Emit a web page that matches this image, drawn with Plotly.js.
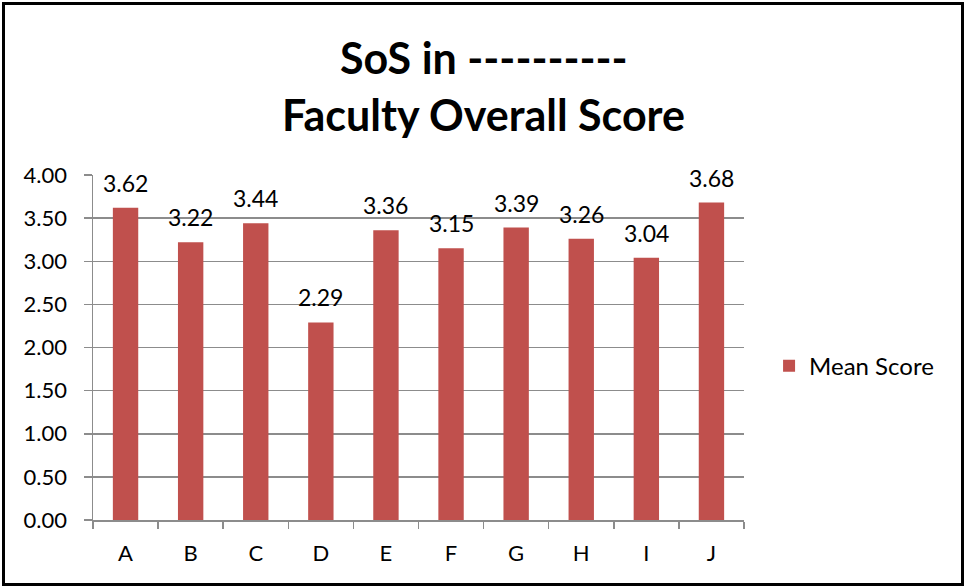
<!DOCTYPE html>
<html>
<head>
<meta charset="utf-8">
<script src="https://cdn.plot.ly/plotly-3.0.1.min.js"></script>
<style>
  html, body { margin: 0; padding: 0; background: #fff; }
  #wrap { position: relative; width: 965px; height: 587px; }
  #chart { width: 965px; height: 587px; }
  #frame { position: absolute; left: 2px; top: 2px; right: 1px; bottom: 1px; border: 3px solid #000; pointer-events: none; }
</style>
</head>
<body>
<div id="wrap">
  <div id="chart"></div>
  <div id="frame"></div>
</div>
<script>
const categories = ['A', 'B', 'C', 'D', 'E', 'F', 'G', 'H', 'I', 'J'];
const meanScores = [3.62, 3.22, 3.44, 2.29, 3.36, 3.15, 3.39, 3.26, 3.04, 3.68];
const yTickValues = [0, 0.5, 1, 1.5, 2, 2.5, 3, 3.5, 4];
const seriesName = 'Mean Score';
const titleLines = ['SoS in ----------', 'Faculty Overall Score'];

const FONT = 'Lato, "Open Sans", "Liberation Sans", sans-serif';
const BAR = '#C0504D';
const GRID = '#8C8C8C';

const trace = {
  type: 'bar',
  x: categories,
  y: meanScores,
  name: seriesName,
  marker: { color: BAR },
  width: 0.39,
  showlegend: true,
  hoverinfo: 'x+y'
};

const labelAnnotations = categories.map((c, i) => ({
  x: c, y: meanScores[i], xref: 'x', yref: 'y',
  text: meanScores[i].toFixed(2),
  showarrow: false, yanchor: 'bottom', yshift: 9,
  font: { family: FONT, size: 23, color: '#000' }
}));

const titleAnnotations = [
  { text: '<b>' + titleLines[0] + '</b>', y: 1.342 },
  { text: '<b>' + titleLines[1] + '</b>', y: 1.174 }
].map(t => ({
  text: t.text, x: 0.6, xref: 'paper', xanchor: 'center',
  y: t.y, yref: 'paper', yanchor: 'middle', showarrow: false,
  font: { family: FONT, size: 43, color: '#000' }
}));

const layout = {
  width: 965, height: 587,
  margin: { l: 93, r: 221, t: 175, b: 67, pad: 0 },
  paper_bgcolor: '#fff', plot_bgcolor: '#fff',
  font: { family: FONT, size: 22, color: '#000' },
  xaxis: {
    type: 'category',
    tickson: 'boundaries',
    ticks: 'outside', ticklen: 7, tickcolor: GRID, tickwidth: 1.5,
    showline: true, linecolor: GRID, linewidth: 1.5,
    showgrid: false,
    ticklabelstandoff: 13,
    tickfont: { family: FONT, size: 22, color: '#000' },
    range: [-0.5, 9.5]
  },
  yaxis: {
    range: [0, 4],
    tickvals: yTickValues,
    tickformat: '.2f',
    ticks: 'outside', ticklen: 8, tickcolor: GRID, tickwidth: 1.5,
    showline: true, linecolor: GRID, linewidth: 1.5,
    showgrid: true, gridcolor: GRID, gridwidth: 1.5,
    zeroline: false,
    ticklabelstandoff: 12,
    tickfont: { family: FONT, size: 22, color: '#000' }
  },
  showlegend: true,
  legend: {
    x: 1.0385, xanchor: 'left', y: 0.446, yanchor: 'middle',
    font: { family: FONT, size: 24, color: '#000' },
    bgcolor: 'rgba(0,0,0,0)', itemwidth: 30
  },
  annotations: titleAnnotations.concat(labelAnnotations)
};

Plotly.newPlot('chart', [trace], layout, { displayModeBar: false, staticPlot: true });
</script>
</body>
</html>
